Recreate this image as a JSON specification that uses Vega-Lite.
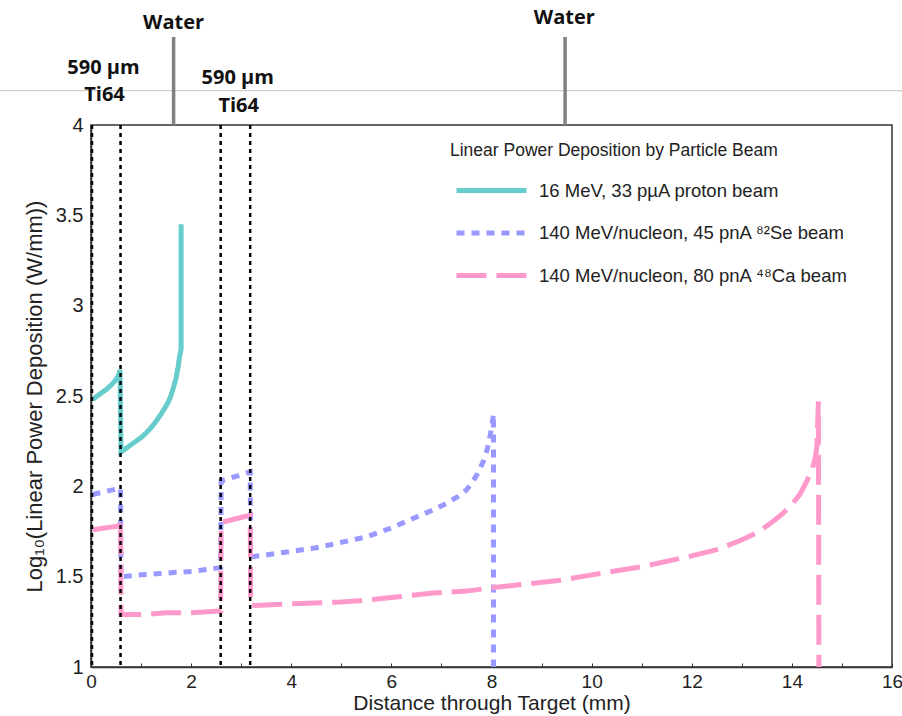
{
  "$schema": "https://vega.github.io/schema/vega-lite/v6.json",
  "width": 801,
  "height": 542,
  "autosize": {"type": "none"},
  "padding": {"left": 91, "top": 125, "right": 10, "bottom": 49},
  "background": "white",
  "config": {
    "view": {"stroke": "#333", "strokeWidth": 1.5},
    "font": "Liberation Sans",
    "axis": {"grid": false, "domainColor": "#333", "domainWidth": 1.5, "labelFont": "Liberation Sans", "titleFont": "Liberation Sans", "labelColor": "#222", "titleColor": "#222", "titleFontWeight": "normal"}
  },
  "datasets": {
    "beams": [
      {"beam": "16 MeV, 33 pµA proton beam", "i": 1, "x": 0.03, "y": 2.48},
      {"beam": "16 MeV, 33 pµA proton beam", "i": 2, "x": 0.1, "y": 2.495},
      {"beam": "16 MeV, 33 pµA proton beam", "i": 3, "x": 0.2, "y": 2.515},
      {"beam": "16 MeV, 33 pµA proton beam", "i": 4, "x": 0.3, "y": 2.535},
      {"beam": "16 MeV, 33 pµA proton beam", "i": 5, "x": 0.4, "y": 2.56},
      {"beam": "16 MeV, 33 pµA proton beam", "i": 6, "x": 0.5, "y": 2.59},
      {"beam": "16 MeV, 33 pµA proton beam", "i": 7, "x": 0.55, "y": 2.615},
      {"beam": "16 MeV, 33 pµA proton beam", "i": 8, "x": 0.58, "y": 2.645},
      {"beam": "16 MeV, 33 pµA proton beam", "i": 9, "x": 0.6, "y": 2.19},
      {"beam": "16 MeV, 33 pµA proton beam", "i": 10, "x": 0.7, "y": 2.21},
      {"beam": "16 MeV, 33 pµA proton beam", "i": 11, "x": 0.8, "y": 2.23},
      {"beam": "16 MeV, 33 pµA proton beam", "i": 12, "x": 0.9, "y": 2.25},
      {"beam": "16 MeV, 33 pµA proton beam", "i": 13, "x": 1.0, "y": 2.27},
      {"beam": "16 MeV, 33 pµA proton beam", "i": 14, "x": 1.1, "y": 2.295},
      {"beam": "16 MeV, 33 pµA proton beam", "i": 15, "x": 1.2, "y": 2.325},
      {"beam": "16 MeV, 33 pµA proton beam", "i": 16, "x": 1.3, "y": 2.36},
      {"beam": "16 MeV, 33 pµA proton beam", "i": 17, "x": 1.4, "y": 2.4},
      {"beam": "16 MeV, 33 pµA proton beam", "i": 18, "x": 1.5, "y": 2.445},
      {"beam": "16 MeV, 33 pµA proton beam", "i": 19, "x": 1.55, "y": 2.47},
      {"beam": "16 MeV, 33 pµA proton beam", "i": 20, "x": 1.6, "y": 2.505},
      {"beam": "16 MeV, 33 pµA proton beam", "i": 21, "x": 1.65, "y": 2.55},
      {"beam": "16 MeV, 33 pµA proton beam", "i": 22, "x": 1.7, "y": 2.6},
      {"beam": "16 MeV, 33 pµA proton beam", "i": 23, "x": 1.74, "y": 2.66},
      {"beam": "16 MeV, 33 pµA proton beam", "i": 24, "x": 1.77, "y": 2.72},
      {"beam": "16 MeV, 33 pµA proton beam", "i": 25, "x": 1.8, "y": 2.76},
      {"beam": "16 MeV, 33 pµA proton beam", "i": 26, "x": 1.8, "y": 3.45},
      {"beam": "140 MeV/nucleon, 45 pnA ⁸²Se beam", "i": 1, "x": 0.03, "y": 1.955},
      {"beam": "140 MeV/nucleon, 45 pnA ⁸²Se beam", "i": 2, "x": 0.59, "y": 1.99},
      {"beam": "140 MeV/nucleon, 45 pnA ⁸²Se beam", "i": 3, "x": 0.6, "y": 1.5},
      {"beam": "140 MeV/nucleon, 45 pnA ⁸²Se beam", "i": 4, "x": 1.0, "y": 1.51},
      {"beam": "140 MeV/nucleon, 45 pnA ⁸²Se beam", "i": 5, "x": 1.5, "y": 1.52},
      {"beam": "140 MeV/nucleon, 45 pnA ⁸²Se beam", "i": 6, "x": 2.05, "y": 1.53},
      {"beam": "140 MeV/nucleon, 45 pnA ⁸²Se beam", "i": 7, "x": 2.59, "y": 1.55},
      {"beam": "140 MeV/nucleon, 45 pnA ⁸²Se beam", "i": 8, "x": 2.6, "y": 2.03},
      {"beam": "140 MeV/nucleon, 45 pnA ⁸²Se beam", "i": 9, "x": 3.18, "y": 2.08},
      {"beam": "140 MeV/nucleon, 45 pnA ⁸²Se beam", "i": 10, "x": 3.19, "y": 1.61},
      {"beam": "140 MeV/nucleon, 45 pnA ⁸²Se beam", "i": 11, "x": 3.5, "y": 1.62},
      {"beam": "140 MeV/nucleon, 45 pnA ⁸²Se beam", "i": 12, "x": 4.0, "y": 1.64},
      {"beam": "140 MeV/nucleon, 45 pnA ⁸²Se beam", "i": 13, "x": 4.5, "y": 1.66},
      {"beam": "140 MeV/nucleon, 45 pnA ⁸²Se beam", "i": 14, "x": 5.0, "y": 1.69},
      {"beam": "140 MeV/nucleon, 45 pnA ⁸²Se beam", "i": 15, "x": 5.5, "y": 1.72},
      {"beam": "140 MeV/nucleon, 45 pnA ⁸²Se beam", "i": 16, "x": 6.0, "y": 1.77},
      {"beam": "140 MeV/nucleon, 45 pnA ⁸²Se beam", "i": 17, "x": 6.5, "y": 1.83},
      {"beam": "140 MeV/nucleon, 45 pnA ⁸²Se beam", "i": 18, "x": 6.84, "y": 1.87},
      {"beam": "140 MeV/nucleon, 45 pnA ⁸²Se beam", "i": 19, "x": 7.1, "y": 1.905},
      {"beam": "140 MeV/nucleon, 45 pnA ⁸²Se beam", "i": 20, "x": 7.31, "y": 1.94},
      {"beam": "140 MeV/nucleon, 45 pnA ⁸²Se beam", "i": 21, "x": 7.5, "y": 1.98},
      {"beam": "140 MeV/nucleon, 45 pnA ⁸²Se beam", "i": 22, "x": 7.61, "y": 2.02},
      {"beam": "140 MeV/nucleon, 45 pnA ⁸²Se beam", "i": 23, "x": 7.72, "y": 2.07},
      {"beam": "140 MeV/nucleon, 45 pnA ⁸²Se beam", "i": 24, "x": 7.84, "y": 2.14},
      {"beam": "140 MeV/nucleon, 45 pnA ⁸²Se beam", "i": 25, "x": 7.92, "y": 2.21},
      {"beam": "140 MeV/nucleon, 45 pnA ⁸²Se beam", "i": 26, "x": 7.98, "y": 2.29},
      {"beam": "140 MeV/nucleon, 45 pnA ⁸²Se beam", "i": 27, "x": 8.02, "y": 2.36},
      {"beam": "140 MeV/nucleon, 45 pnA ⁸²Se beam", "i": 28, "x": 8.04, "y": 2.4},
      {"beam": "140 MeV/nucleon, 45 pnA ⁸²Se beam", "i": 29, "x": 8.04, "y": 1.0},
      {"beam": "140 MeV/nucleon, 80 pnA ⁴⁸Ca beam", "i": 1, "x": 0.03, "y": 1.76},
      {"beam": "140 MeV/nucleon, 80 pnA ⁴⁸Ca beam", "i": 2, "x": 0.56, "y": 1.78},
      {"beam": "140 MeV/nucleon, 80 pnA ⁴⁸Ca beam", "i": 3, "x": 0.59, "y": 1.82},
      {"beam": "140 MeV/nucleon, 80 pnA ⁴⁸Ca beam", "i": 4, "x": 0.6, "y": 1.29},
      {"beam": "140 MeV/nucleon, 80 pnA ⁴⁸Ca beam", "i": 5, "x": 1.0, "y": 1.29},
      {"beam": "140 MeV/nucleon, 80 pnA ⁴⁸Ca beam", "i": 6, "x": 1.5, "y": 1.3},
      {"beam": "140 MeV/nucleon, 80 pnA ⁴⁸Ca beam", "i": 7, "x": 2.0, "y": 1.3},
      {"beam": "140 MeV/nucleon, 80 pnA ⁴⁸Ca beam", "i": 8, "x": 2.59, "y": 1.31},
      {"beam": "140 MeV/nucleon, 80 pnA ⁴⁸Ca beam", "i": 9, "x": 2.6, "y": 1.8},
      {"beam": "140 MeV/nucleon, 80 pnA ⁴⁸Ca beam", "i": 10, "x": 3.18, "y": 1.84},
      {"beam": "140 MeV/nucleon, 80 pnA ⁴⁸Ca beam", "i": 11, "x": 3.19, "y": 1.34},
      {"beam": "140 MeV/nucleon, 80 pnA ⁴⁸Ca beam", "i": 12, "x": 4.0, "y": 1.35},
      {"beam": "140 MeV/nucleon, 80 pnA ⁴⁸Ca beam", "i": 13, "x": 5.0, "y": 1.36},
      {"beam": "140 MeV/nucleon, 80 pnA ⁴⁸Ca beam", "i": 14, "x": 5.51, "y": 1.37},
      {"beam": "140 MeV/nucleon, 80 pnA ⁴⁸Ca beam", "i": 15, "x": 6.2, "y": 1.39},
      {"beam": "140 MeV/nucleon, 80 pnA ⁴⁸Ca beam", "i": 16, "x": 6.84, "y": 1.41},
      {"beam": "140 MeV/nucleon, 80 pnA ⁴⁸Ca beam", "i": 17, "x": 7.5, "y": 1.42},
      {"beam": "140 MeV/nucleon, 80 pnA ⁴⁸Ca beam", "i": 18, "x": 8.04, "y": 1.44},
      {"beam": "140 MeV/nucleon, 80 pnA ⁴⁸Ca beam", "i": 19, "x": 8.7, "y": 1.46},
      {"beam": "140 MeV/nucleon, 80 pnA ⁴⁸Ca beam", "i": 20, "x": 9.38, "y": 1.48},
      {"beam": "140 MeV/nucleon, 80 pnA ⁴⁸Ca beam", "i": 21, "x": 10.0, "y": 1.51},
      {"beam": "140 MeV/nucleon, 80 pnA ⁴⁸Ca beam", "i": 22, "x": 11.0, "y": 1.555},
      {"beam": "140 MeV/nucleon, 80 pnA ⁴⁸Ca beam", "i": 23, "x": 12.0, "y": 1.615},
      {"beam": "140 MeV/nucleon, 80 pnA ⁴⁸Ca beam", "i": 24, "x": 12.5, "y": 1.65},
      {"beam": "140 MeV/nucleon, 80 pnA ⁴⁸Ca beam", "i": 25, "x": 12.97, "y": 1.7},
      {"beam": "140 MeV/nucleon, 80 pnA ⁴⁸Ca beam", "i": 26, "x": 13.35, "y": 1.75},
      {"beam": "140 MeV/nucleon, 80 pnA ⁴⁸Ca beam", "i": 27, "x": 13.64, "y": 1.81},
      {"beam": "140 MeV/nucleon, 80 pnA ⁴⁸Ca beam", "i": 28, "x": 13.82, "y": 1.85},
      {"beam": "140 MeV/nucleon, 80 pnA ⁴⁸Ca beam", "i": 29, "x": 14.0, "y": 1.9},
      {"beam": "140 MeV/nucleon, 80 pnA ⁴⁸Ca beam", "i": 30, "x": 14.17, "y": 1.96},
      {"beam": "140 MeV/nucleon, 80 pnA ⁴⁸Ca beam", "i": 31, "x": 14.3, "y": 2.03},
      {"beam": "140 MeV/nucleon, 80 pnA ⁴⁸Ca beam", "i": 32, "x": 14.4, "y": 2.09},
      {"beam": "140 MeV/nucleon, 80 pnA ⁴⁸Ca beam", "i": 33, "x": 14.47, "y": 2.16},
      {"beam": "140 MeV/nucleon, 80 pnA ⁴⁸Ca beam", "i": 34, "x": 14.5, "y": 2.22},
      {"beam": "140 MeV/nucleon, 80 pnA ⁴⁸Ca beam", "i": 35, "x": 14.53, "y": 2.47},
      {"beam": "140 MeV/nucleon, 80 pnA ⁴⁸Ca beam", "i": 36, "x": 14.54, "y": 1.0}
    ],
    "dividers": [{"x": 0.02}, {"x": 0.59}, {"x": 2.59}, {"x": 3.18}],
    "hline": [{"x": -1.82, "x2": 16.2, "y": 4.19}],
    "markers": [{"x": 1.65, "y": 4.0, "y2": 4.487}, {"x": 9.47, "y": 4.0, "y2": 4.487}],
    "labels": [
      {"x": 1.65, "y": 4.564, "t": "Water"},
      {"x": 9.455, "y": 4.59, "t": "Water"},
      {"x": 0.25, "y": 4.315, "t": "590 µm"},
      {"x": 0.27, "y": 4.166, "t": "Ti64"},
      {"x": 2.93, "y": 4.26, "t": "590 µm"},
      {"x": 2.95, "y": 4.105, "t": "Ti64"}
    ]
  },
  "layer": [
    {
      "data": {"name": "beams"},
      "mark": {"type": "line", "strokeWidth": 5, "strokeCap": "butt", "clip": true},
      "encoding": {
        "x": {
          "field": "x", "type": "quantitative",
          "scale": {"domain": [0, 16], "nice": false, "zero": false},
          "axis": {
            "title": "Distance through Target (mm)",
            "titleFontSize": 21, "titlePadding": 1,
            "values": [0, 0.5, 1, 1.5, 2, 2.5, 3, 3.5, 4, 4.5, 5, 5.5, 6, 6.5, 7, 7.5, 8, 8.5, 9, 9.5, 10, 10.5, 11, 11.5, 12, 12.5, 13, 13.5, 14, 14.5, 15, 15.5, 16],
            "labelExpr": "datum.value % 2 === 0 ? format(datum.value, 'd') : ''",
            "labelFontSize": 19, "labelFlush": false, "labelOverlap": false,
            "tickSize": -4, "tickColor": "#333", "tickWidth": 1, "labelPadding": 9
          }
        },
        "y": {
          "field": "y", "type": "quantitative",
          "scale": {"domain": [1, 4], "nice": false, "zero": false},
          "axis": {
            "title": "Log₁₀(Linear Power Deposition (W/mm))",
            "titleFontSize": 22, "titlePadding": 9,
            "values": [1, 1.5, 2, 2.5, 3, 3.5, 4],
            "labelExpr": "format(datum.value, '~g')",
            "labelFontSize": 20, "labelFlush": false, "labelOverlap": false,
            "ticks": false, "labelPadding": 8
          }
        },
        "color": {
          "field": "beam", "type": "nominal",
          "scale": {"domain": ["16 MeV, 33 pµA proton beam", "140 MeV/nucleon, 45 pnA ⁸²Se beam", "140 MeV/nucleon, 80 pnA ⁴⁸Ca beam"], "range": ["#66CCCC", "#9999FF", "#FF99CC"]},
          "legend": {
            "title": "Linear Power Deposition by Particle Beam",
            "orient": "none", "legendX": 359, "legendY": 17,
            "titleFontSize": 17.5, "titleFontWeight": "normal", "titleColor": "#222", "titlePadding": 21, "titleLimit": 600,
            "labelFontSize": 18.5, "labelColor": "#222", "labelOffset": 10, "labelLimit": 600,
            "symbolType": "stroke", "symbolSize": 4900, "symbolStrokeWidth": 5, "symbolOffset": 4,
            "clipHeight": 20, "rowPadding": 22.5, "offset": 0
          }
        },
        "strokeDash": {
          "field": "beam", "type": "nominal",
          "scale": {"domain": ["16 MeV, 33 pµA proton beam", "140 MeV/nucleon, 45 pnA ⁸²Se beam", "140 MeV/nucleon, 80 pnA ⁴⁸Ca beam"], "range": [[1, 0], [8, 7], [30, 10]]},
          "legend": {
            "title": "Linear Power Deposition by Particle Beam",
            "orient": "none", "legendX": 359, "legendY": 17,
            "titleFontSize": 17.5, "titleFontWeight": "normal", "titleColor": "#222", "titlePadding": 21, "titleLimit": 600,
            "labelFontSize": 18.5, "labelColor": "#222", "labelOffset": 10, "labelLimit": 600,
            "symbolType": "stroke", "symbolSize": 4900, "symbolStrokeWidth": 5, "symbolOffset": 4,
            "clipHeight": 20, "rowPadding": 22.5, "offset": 0
          }
        },
        "order": {"field": "i", "type": "quantitative"}
      }
    },
    {
      "data": {"name": "dividers"},
      "mark": {"type": "rule", "color": "#000", "strokeWidth": 2.5, "strokeDash": [4, 4]},
      "encoding": {"x": {"field": "x", "type": "quantitative"}}
    },
    {
      "data": {"name": "hline"},
      "mark": {"type": "rule", "color": "#c4c4c4", "strokeWidth": 1},
      "encoding": {
        "x": {"field": "x", "type": "quantitative"},
        "x2": {"field": "x2"},
        "y": {"field": "y", "type": "quantitative"}
      }
    },
    {
      "data": {"name": "markers"},
      "mark": {"type": "rule", "color": "#808080", "strokeWidth": 3.5},
      "encoding": {
        "x": {"field": "x", "type": "quantitative"},
        "y": {"field": "y", "type": "quantitative"},
        "y2": {"field": "y2"}
      }
    },
    {
      "data": {"name": "labels"},
      "mark": {"type": "text", "font": "Open Sans", "fontWeight": "bold", "fontSize": 20, "color": "#111", "align": "center", "baseline": "middle"},
      "encoding": {
        "x": {"field": "x", "type": "quantitative"},
        "y": {"field": "y", "type": "quantitative"},
        "text": {"field": "t"}
      }
    }
  ]
}
